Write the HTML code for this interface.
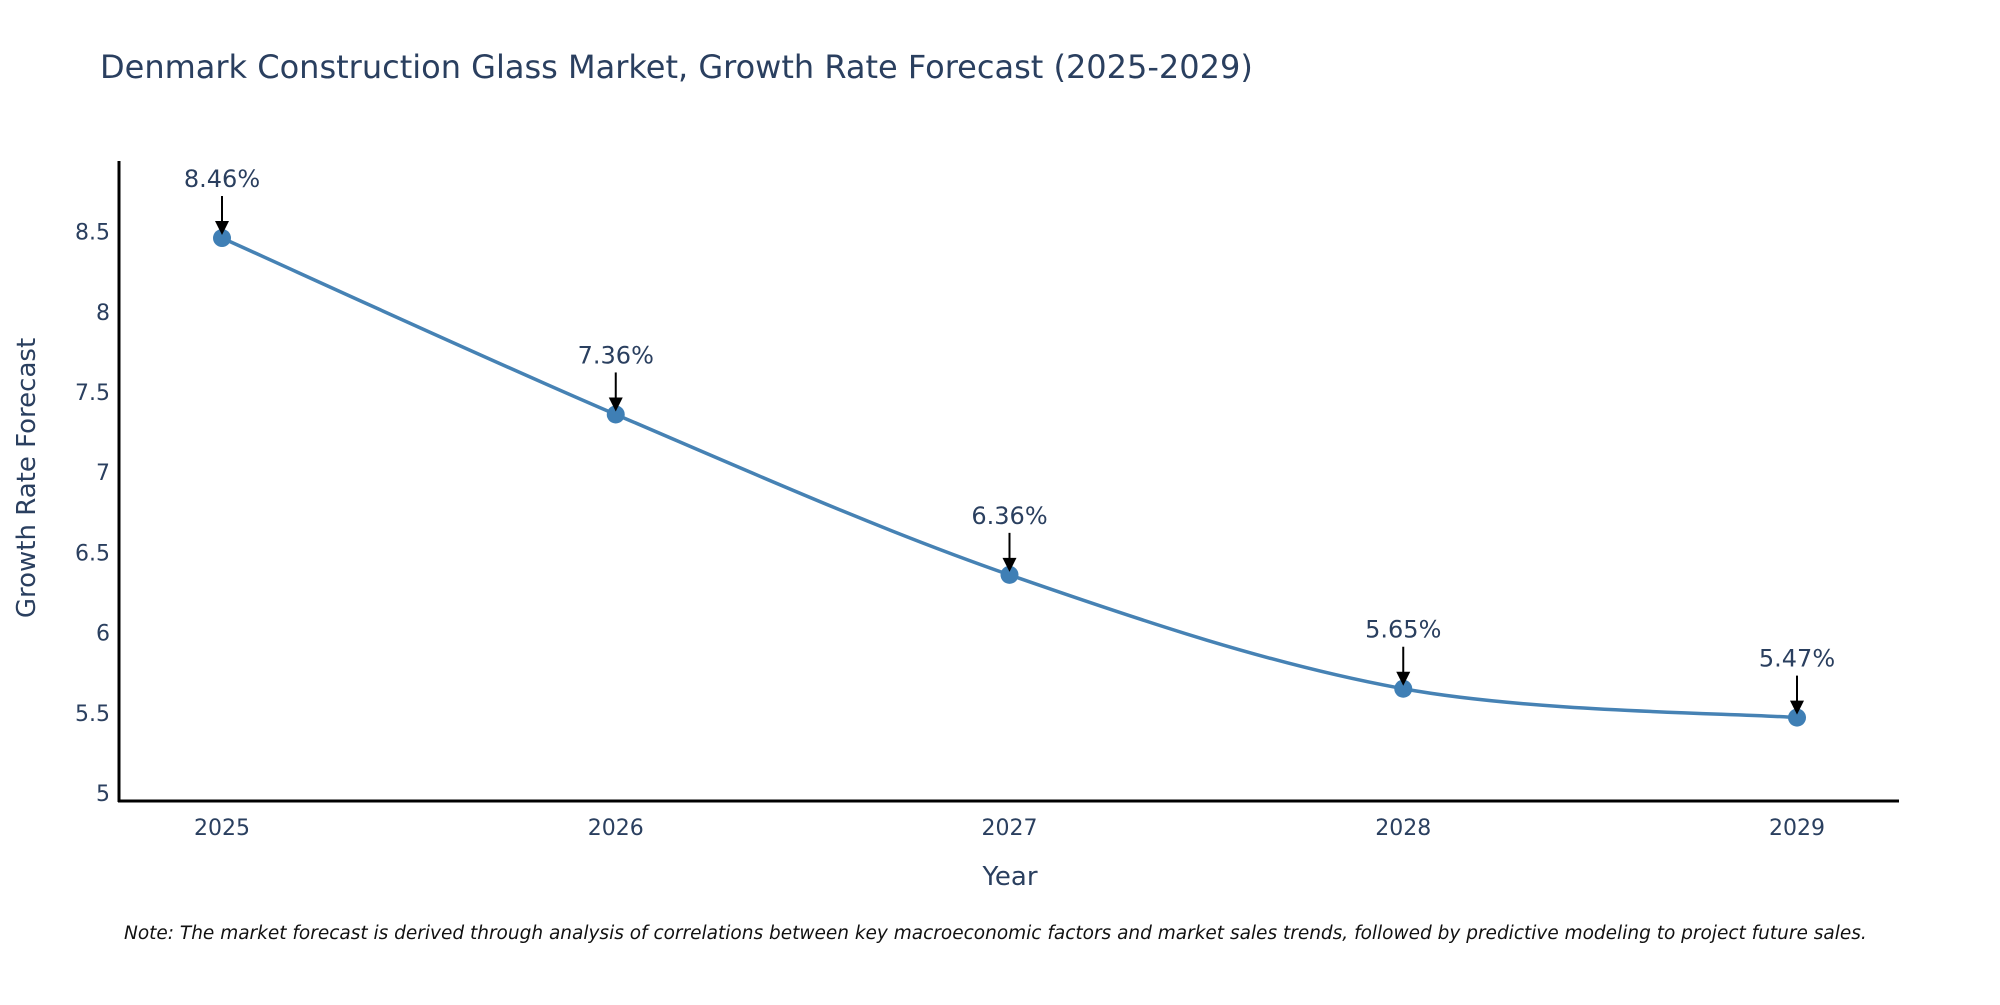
<!DOCTYPE html>
<html><head><meta charset="utf-8"><style>
body{margin:0;background:#fff;}
svg text{font-family:"DejaVu Sans","Liberation Sans",sans-serif;fill:#2a3f5f;}
</style></head><body>
<svg id="chart" width="2000" height="1000" xmlns="http://www.w3.org/2000/svg">
<text x="100" y="78" font-size="32">Denmark Construction Glass Market, Growth Rate Forecast (2025-2029)</text>
<g id="yticks"></g>
<g id="xticks"></g>
<path id="line" fill="none" stroke="#4682B4" stroke-width="3.5"/>
<g id="points"></g>
<g id="annots"></g>
<line x1="119" y1="161" x2="119" y2="802" stroke="#000" stroke-width="3"/>
<line x1="118" y1="801" x2="1899" y2="801" stroke="#000" stroke-width="3"/>
<text x="1010" y="885" font-size="26" text-anchor="middle">Year</text>
<text transform="translate(35,478) rotate(-90)" font-size="26" text-anchor="middle">Growth Rate Forecast</text>
<text x="124" y="939" font-size="18.5" font-style="italic" style="fill:#111">Note: The market forecast is derived through analysis of correlations between key macroeconomic factors and market sales trends, followed by predictive modeling to project future sales.</text>
</svg>
<script>
const years=[2025,2026,2027,2028,2029];
const values=[8.46,7.36,6.36,5.65,5.47];
const labels=["8.46%","7.36%","6.36%","5.65%","5.47%"];
const yTicks=[5,5.5,6,6.5,7,7.5,8,8.5];
const yTickLabels=["5","5.5","6","6.5","7","7.5","8","8.5"];
const NS="http://www.w3.org/2000/svg";
function xs(i){return 222+i*393.75;}
function ys(v){return 793-(v-5)*160.4;}
function mk(t,a,p){const e=document.createElementNS(NS,t);for(const k in a)e.setAttribute(k,a[k]);p.appendChild(e);return e;}
const yg=document.getElementById('yticks');
yTicks.forEach((v,i)=>{const t=mk('text',{x:110,y:ys(v)+8,'font-size':22,'text-anchor':'end'},yg);


t.textContent=yTickLabels[i];});
const xg=document.getElementById('xticks');
years.forEach((y,i)=>{const t=mk('text',{x:xs(i),y:835,'font-size':22,'text-anchor':'middle'},xg);


t.textContent=y;});
const P=values.map((v,i)=>[xs(i),ys(v)]);
let d="M"+P[0][0]+","+P[0][1];
for(let i=0;i<P.length-1;i++){const p0=P[Math.max(i-1,0)],p1=P[i],p2=P[i+1],p3=P[Math.min(i+2,P.length-1)];
const s=1/6;d+=` C${p1[0]+(p2[0]-p0[0])*s},${p1[1]+(p2[1]-p0[1])*s} ${p2[0]-(p3[0]-p1[0])*s},${p2[1]-(p3[1]-p1[1])*s} ${p2[0]},${p2[1]}`;}
document.getElementById('line').setAttribute('d',d);
const pg=document.getElementById('points'),ag=document.getElementById('annots');
P.forEach((p,i)=>{const c=mk('circle',{cx:p[0],cy:p[1],r:9,fill:'#3f7fb5'},pg);


const l=mk('line',{x1:p[0],y1:p[1]-42,x2:p[0],y2:p[1]-14,stroke:'#000','stroke-width':2},ag);


const h=mk('path',{d:`M${p[0]-7},${p[1]-17} L${p[0]+7},${p[1]-17} L${p[0]},${p[1]-3} Z`,fill:'#000'},ag);


const t=mk('text',{x:p[0],y:p[1]-51,'font-size':24,'text-anchor':'middle'},ag);


t.textContent=labels[i];});
</script>
</body></html>
